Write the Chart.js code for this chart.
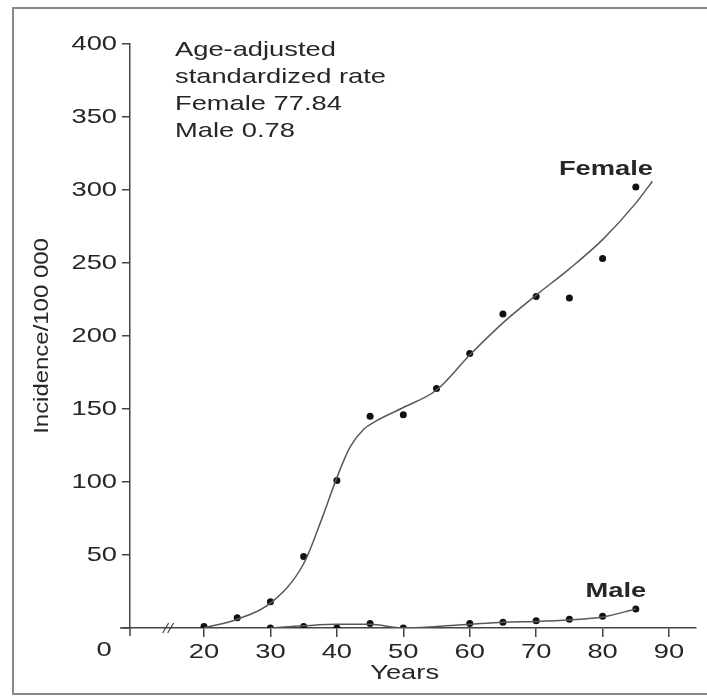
<!DOCTYPE html>
<html><head><meta charset="utf-8">
<script src="https://cdn.jsdelivr.net/npm/chart.js@4/dist/chart.umd.min.js"></script>
<style>html,body{margin:0;padding:0;background:#fff;}#wrap{width:707px;height:698px;}</style>
</head><body><div id="wrap"><canvas id="c" width="707" height="698"></canvas></div>
<script>
// ---- data ----
const pointYears   = [20, 25, 30, 35, 40, 45, 50, 55, 60, 65, 70, 75, 80, 85];
const femaleRates  = [1, 7, 18, 49, 101, 145, 146, 164, 188, 215, 227, 226, 253, 302];
const maleYears    = [30, 35, 40, 45, 50, 60, 65, 70, 75, 80, 85];
const maleRates    = [0, 1, 0, 3, 0, 3, 4, 5, 6, 8, 13];
const femaleCurveYears = [20, 25, 30, 35, 38, 40, 42, 44, 46, 50, 55, 60, 65, 70, 75, 80, 85, 87.5];
const femaleCurveRates = [0, 6, 17, 44, 78, 103, 124, 136, 142, 151, 163, 187, 209, 228, 246, 266, 291, 306];
const maleCurveYears = [30, 35, 40, 45, 50, 55, 60, 65, 70, 75, 80, 85];
const maleCurveRates = [0, 1.5, 2.5, 2.5, 0, 1, 2.5, 4, 4.5, 5.5, 7.5, 13];
const xTickValues = [20, 30, 40, 50, 60, 70, 80, 90];
const yTickValues = [0, 50, 100, 150, 200, 250, 300, 350, 400];
const annotationLines = ['Age-adjusted', 'standardized rate', 'Female 77.84', 'Male 0.78'];
const seriesNames = ['Female', 'Male'];
const xAxisTitle = 'Years';
const yAxisTitle = 'Incidence/100 000';
const originLabel = '0';

const FONT = '"Liberation Sans", Arial, Helvetica, sans-serif';
const TXT = '#262626';
const AX = '#444';

const zip = (xs, ys) => xs.map((v, i) => ({x: v, y: ys[i]}));

// the reference typeface is wide: stretch every glyph run horizontally
const wideText = {
  id: 'wideText',
  beforeInit(chart) {
    const ctx = chart.ctx;
    if (ctx.__wide) return;
    ctx.__wide = true;
    const orig = ctx.fillText.bind(ctx);
    ctx.fillText = function (text, x, y) {
      const m = this.getTransform();
      const sx = Math.abs(m.b) > 1e-6 ? 1.14 : 1.3;
      this.save();
      this.translate(x, y);
      this.scale(sx, 1);
      orig(text, 0, 0);
      this.restore();
    };
  }
};

const decor = {
  id: 'decor',
  beforeDraw(chart) {
    const ctx = chart.ctx;
    ctx.save();
    ctx.fillStyle = '#fff';
    ctx.fillRect(0, 0, chart.width, chart.height);
    ctx.restore();
  },
  afterDraw(chart) {
    const {ctx, chartArea: a, scales: {x, y}} = chart;
    ctx.save();
    // outer frame
    ctx.strokeStyle = '#888';
    ctx.lineWidth = 2;
    ctx.strokeRect(13, 8, 760, 686);
    // axis extensions
    ctx.strokeStyle = AX;
    ctx.lineWidth = 1.5;
    ctx.beginPath();
    ctx.moveTo(a.left, a.bottom); ctx.lineTo(a.left, a.bottom + 8);
    ctx.moveTo(a.left - 10, a.bottom); ctx.lineTo(a.left, a.bottom);
    ctx.stroke();
    // axis break marks
    const bx = x.getPixelForValue(14.6), by = y.getPixelForValue(0);
    ctx.lineWidth = 1.2;
    ctx.beginPath();
    for (const off of [-2.5, 2.5]) {
      ctx.moveTo(bx + off - 3, by + 5);
      ctx.lineTo(bx + off + 3, by - 5);
    }
    ctx.stroke();
    // origin label
    ctx.fillStyle = TXT;
    ctx.font = '21px ' + FONT;
    ctx.textAlign = 'center';
    ctx.textBaseline = 'middle';
    ctx.fillText(originLabel, a.left - 26, by + 22);
    // x axis title, centred under the 50 tick as in the reference
    ctx.fillText(xAxisTitle, x.getPixelForValue(50.2), by + 45);
    // annotation block
    ctx.textAlign = 'left';
    annotationLines.forEach((t, i) => ctx.fillText(t, 175, 50 + i * 27));
    // series labels
    ctx.font = 'bold 21px ' + FONT;
    ctx.textAlign = 'center';
    ctx.fillText(seriesNames[0], x.getPixelForValue(80.5), y.getPixelForValue(314));
    ctx.fillText(seriesNames[1], x.getPixelForValue(82), y.getPixelForValue(25));
    ctx.restore();
  }
};

new Chart(document.getElementById('c'), {
  type: 'scatter',
  data: {
    datasets: [
      {data: zip(femaleCurveYears, femaleCurveRates), showLine: true, pointRadius: 0,
       borderColor: '#585858', borderWidth: 1.5, cubicInterpolationMode: 'monotone', fill: false},
      {data: zip(maleCurveYears, maleCurveRates), showLine: true, pointRadius: 0,
       borderColor: '#585858', borderWidth: 1.5, cubicInterpolationMode: 'monotone', fill: false},
      {data: zip(pointYears, femaleRates), showLine: false, pointRadius: 3.5,
       pointBackgroundColor: '#111', pointBorderColor: '#111', pointBorderWidth: 0},
      {data: zip(maleYears, maleRates), showLine: false, pointRadius: 3.5,
       pointBackgroundColor: '#111', pointBorderColor: '#111', pointBorderWidth: 0}
    ]
  },
  options: {
    responsive: false, animation: false, devicePixelRatio: 1,
    layout: {padding: {top: 44, right: 11, left: 0, bottom: 0}},
    plugins: {legend: {display: false}, tooltip: {enabled: false}},
    scales: {
      x: {
        type: 'linear', min: 8.86, max: 94.06,
        afterBuildTicks: s => { s.ticks = xTickValues.map(v => ({value: v})); },
        afterFit: s => { s.height = 70; },
        grid: {drawOnChartArea: false, drawTicks: true, tickLength: 9, color: AX, lineWidth: 1.5},
        border: {display: true, color: AX, width: 1.5},
        ticks: {color: TXT, font: {family: FONT, size: 21}, padding: 3, maxRotation: 0, autoSkip: false},
        title: {display: false}
      },
      y: {
        type: 'linear', min: 0, max: 400,
        afterBuildTicks: s => { s.ticks = yTickValues.map(v => ({value: v})); },
        afterFit: s => { s.width = 130; },
        grid: {drawOnChartArea: false, drawTicks: true, tickLength: 8, color: AX, lineWidth: 1.5},
        border: {display: true, color: AX, width: 1.5},
        ticks: {color: TXT, font: {family: FONT, size: 21}, padding: 5,
                callback: v => v === 0 ? '' : String(v)},
        title: {display: true, text: yAxisTitle, color: TXT, font: {family: FONT, size: 21}, padding: {top: 30, bottom: 0}}
      }
    }
  },
  plugins: [wideText, decor]
});
</script>
</body></html>
